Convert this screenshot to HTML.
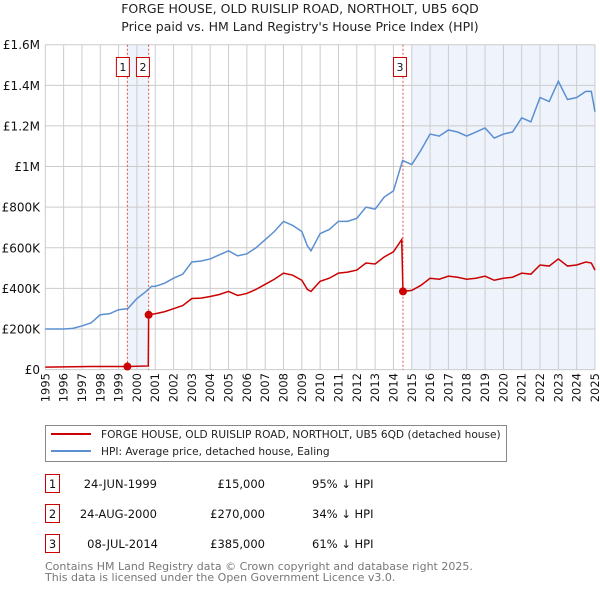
<!DOCTYPE html>
<html><head><meta charset="utf-8"><style>
body{margin:0;background:#fff;font-family:"Liberation Sans","DejaVu Sans",sans-serif}
svg text{font-family:"DejaVu Sans","Liberation Sans",sans-serif}
</style></head><body>
<svg id="c" width="600" height="590" xmlns="http://www.w3.org/2000/svg">
<text x="300" y="13" text-anchor="middle" font-size="12.5" fill="#222">FORGE HOUSE, OLD RUISLIP ROAD, NORTHOLT, UB5 6QD</text>
<text x="300" y="31" text-anchor="middle" font-size="12.5" fill="#222">Price paid vs. HM Land Registry's House Price Index (HPI)</text>
<g id="plot"></g>
<g>
<rect x="45.5" y="425.5" width="461" height="36" fill="#fff" stroke="#888"/>
<line x1="51" y1="434" x2="91" y2="434" stroke="#cc0000" stroke-width="2"/>
<text x="101" y="438" font-size="10.6" fill="#222">FORGE HOUSE, OLD RUISLIP ROAD, NORTHOLT, UB5 6QD (detached house)</text>
<line x1="51" y1="451" x2="91" y2="451" stroke="#5b8fd1" stroke-width="2"/>
<text x="101" y="455" font-size="10.6" fill="#222">HPI: Average price, detached house, Ealing</text>
</g>
<g font-size="11.5" fill="#111">
<rect x="45.5" y="474.5" width="14" height="18" fill="none" stroke="#cc0000"/><text x="52.5" y="488" text-anchor="middle">1</text>
<text x="157" y="488" text-anchor="end">24-JUN-1999</text><text x="265" y="488" text-anchor="end">£15,000</text><text x="312" y="488">95% ↓ HPI</text>
<rect x="45.5" y="504.5" width="14" height="18" fill="none" stroke="#cc0000"/><text x="52.5" y="518" text-anchor="middle">2</text>
<text x="157" y="518" text-anchor="end">24-AUG-2000</text><text x="265" y="518" text-anchor="end">£270,000</text><text x="312" y="518">34% ↓ HPI</text>
<rect x="45.5" y="534.5" width="14" height="18" fill="none" stroke="#cc0000"/><text x="52.5" y="548" text-anchor="middle">3</text>
<text x="158" y="548" text-anchor="end">08-JUL-2014</text><text x="265" y="548" text-anchor="end">£385,000</text><text x="312" y="548">61% ↓ HPI</text>
</g>
<text x="45" y="570" font-size="11" fill="#777">Contains HM Land Registry data © Crown copyright and database right 2025.</text>
<text x="45" y="581" font-size="11" fill="#777">This data is licensed under the Open Government Licence v3.0.</text>
</svg>
<script>
const hpiYears=[1995,1996,1996.5,1997,1997.5,1998,1998.5,1999,1999.5,2000,2000.5,2000.8,2001,2001.5,2002,2002.5,2003,2003.5,2004,2004.5,2005,2005.5,2006,2006.5,2007,2007.5,2008,2008.5,2009,2009.3,2009.5,2010,2010.5,2011,2011.5,2012,2012.5,2013,2013.5,2014,2014.5,2015,2015.5,2016,2016.5,2017,2017.5,2018,2018.5,2019,2019.5,2020,2020.5,2021,2021.5,2022,2022.5,2023,2023.5,2024,2024.5,2024.8,2025];
const hpiValues=[200,200,203,215,230,270,275,295,300,350,385,410,410,425,450,470,530,535,545,565,585,560,570,600,640,680,730,710,680,610,585,670,690,730,730,745,800,790,850,880,1030,1010,1080,1160,1150,1180,1170,1150,1170,1190,1140,1160,1170,1240,1220,1340,1320,1420,1330,1340,1370,1370,1270];
const priceYears=[1995,1997.5,1999.48,2000.62,2000.64,2001,2001.5,2002,2002.5,2003,2003.5,2004,2004.5,2005,2005.5,2006,2006.5,2007,2007.5,2008,2008.5,2009,2009.3,2009.5,2010,2010.5,2011,2011.5,2012,2012.5,2013,2013.5,2014,2014.45,2014.52,2015,2015.5,2016,2016.5,2017,2017.5,2018,2018.5,2019,2019.5,2020,2020.5,2021,2021.5,2022,2022.5,2023,2023.5,2024,2024.5,2024.8,2025];
const priceValues=[12,15,15,18,270,275,285,300,315,350,352,360,370,385,365,375,395,420,445,475,465,440,395,385,435,450,475,480,490,525,520,555,580,640,385,390,415,450,445,460,455,445,450,460,440,450,455,475,470,515,510,545,510,515,530,525,490];
const saleYears=[1999.48,2000.64,2014.52];
const saleValues=[15,270,385];
const saleLabels=["1","2","3"];
const yTicks=[0,200,400,600,800,1000,1200,1400,1600];
const yTickLabels=["£0","£200K","£400K","£600K","£800K","£1M","£1.2M","£1.4M","£1.6M"];
const xTicks=[1995,1996,1997,1998,1999,2000,2001,2002,2003,2004,2005,2006,2007,2008,2009,2010,2011,2012,2013,2014,2015,2016,2017,2018,2019,2020,2021,2022,2023,2024,2025];

const X0=45.3,X1=595,Y0=369.6,Y1=44.7;
const xs=y=>X0+(y-1995)/30*(X1-X0);
const ys=v=>Y0-v/1600*(Y0-Y1);
const NS="http://www.w3.org/2000/svg";
const g=document.getElementById('plot');
function mk(t,a){const e=document.createElementNS(NS,t);for(const k in a)e.setAttribute(k,a[k]);g.appendChild(e);return e;}
let e;
e=mk('rect',{x:xs(1999.48),y:Y1,width:xs(2000.64)-xs(1999.48),height:Y0-Y1,fill:'#eef3fc'});


e=mk('rect',{x:xs(2015),y:Y1,width:X1-xs(2015),height:Y0-Y1,fill:'#eef3fc'});


xTicks.forEach(t=>{
 e=mk('line',{x1:xs(t),x2:xs(t),y1:Y1,y2:Y0,stroke:'#ccc','stroke-width':1});
 
 
 e=mk('text',{x:0,y:0,transform:`translate(${xs(t)+4},373) rotate(-90)`,'text-anchor':'end','font-size':11.5,fill:'#111'});
 e.textContent=t;
 
 
});
yTicks.forEach((t,i)=>{
 e=mk('line',{x1:X0,x2:X1,y1:ys(t),y2:ys(t),stroke:'#ccc','stroke-width':1});
 
 
 e=mk('text',{x:40,y:ys(t)+4.5,'text-anchor':'end','font-size':12,fill:'#111'});
 e.textContent=yTickLabels[i];
 
 
});
const boxShift=[-4.5,-5.7,-3];
saleYears.forEach((s,i)=>{
 e=mk('line',{x1:xs(s),x2:xs(s),y1:Y1,y2:Y0,stroke:'#e05050','stroke-width':1,'stroke-dasharray':'2,2'});
 
 
 const bx=xs(s)+boxShift[i]-7;
 e=mk('rect',{x:bx+0.5,y:57.5,width:13,height:19,fill:'#fff',stroke:'#cc0000'});
 
 
 e=mk('text',{x:bx+7,y:71,'text-anchor':'middle','font-size':11,fill:'#111'});
 e.textContent=saleLabels[i];
 
 
});
e=mk('polyline',{points:hpiYears.map((y,i)=>xs(y)+','+ys(hpiValues[i])).join(' '),fill:'none',stroke:'#5b8fd1','stroke-width':1.5});


e=mk('polyline',{points:priceYears.map((y,i)=>xs(y)+','+ys(priceValues[i])).join(' '),fill:'none',stroke:'#cc0000','stroke-width':1.5});


saleYears.forEach((s,i)=>{
 e=mk('circle',{cx:xs(s),cy:ys(saleValues[i]),r:4,fill:'#cc0000'});
 
 
});
</script>
</body></html>
